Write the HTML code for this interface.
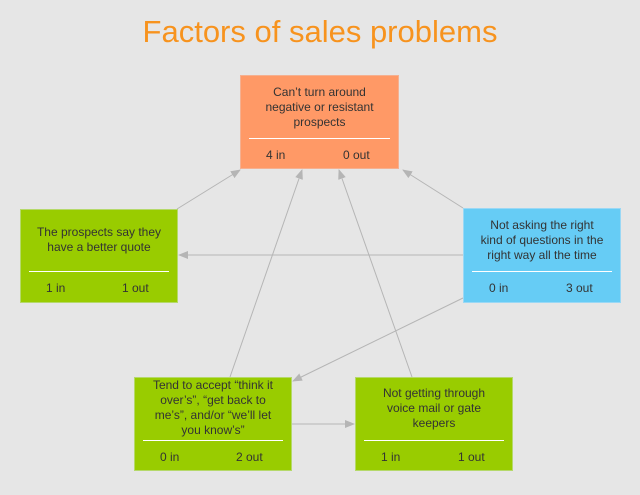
<!DOCTYPE html>
<html><head><style>
body{margin:0;width:640px;height:495px;background:#e6e6e6;position:relative;overflow:hidden;font-family:"Liberation Sans",sans-serif;}
.t{position:absolute;left:0;width:640px;top:14px;text-align:center;font-size:31px;color:#f7931e;}
.b{position:absolute;box-sizing:border-box;color:#333;font-size:12px;text-align:center;}
.b .txt{position:absolute;line-height:15px;}
.b .sep{position:absolute;left:8px;right:8px;height:1px;background:#fff;}
.b .n{position:absolute;font-size:12px;}
</style></head><body>
<div class="t">Factors of sales problems</div>
<svg width="640" height="495" style="position:absolute;left:0;top:0">
<defs><marker id="a" markerWidth="10" markerHeight="8" refX="9" refY="4" orient="auto" markerUnits="userSpaceOnUse"><path d="M0,0 L10,4 L0,8 Z" fill="#b5b5b5"/></marker></defs>
<g stroke="#b5b5b5" stroke-width="1" fill="none" marker-end="url(#a)">
<line x1="177" y1="209" x2="240" y2="170"/>
<line x1="230" y1="377" x2="302" y2="170"/>
<line x1="412" y1="377" x2="339" y2="170"/>
<line x1="463" y1="208" x2="403" y2="170"/>
<line x1="463" y1="255" x2="179" y2="255"/>
<line x1="463" y1="298" x2="293" y2="381"/>
<line x1="291" y1="424" x2="354" y2="424"/>
</g></svg>
<div class="b" style="left:240px;top:75px;width:159px;height:94px;background:#ff9966;border:1px solid #f5b090">
<div class="txt" style="top:9px;left:14px;right:14px">Can’t turn around<br>negative or resistant<br>prospects</div>
<div class="sep" style="top:62px"></div>
<div class="n" style="left:25px;top:72px">4 in</div><div class="n" style="left:102px;top:72px">0 out</div></div>
<div class="b" style="left:20px;top:209px;width:158px;height:94px;background:#99cc00;border:1px solid #b5d96a">
<div class="txt" style="top:15px;left:4px;right:4px">The prospects say they<br>have a better quote</div>
<div class="sep" style="top:61px"></div>
<div class="n" style="left:25px;top:71px">1 in</div><div class="n" style="left:101px;top:71px">1 out</div></div>
<div class="b" style="left:463px;top:208px;width:158px;height:95px;background:#66ccf5;border:1px solid #9ad8f5">
<div class="txt" style="top:9px;left:2px;right:2px">Not asking the right<br>kind of questions in the<br>right way all the time</div>
<div class="sep" style="top:62px"></div>
<div class="n" style="left:25px;top:72px">0 in</div><div class="n" style="left:102px;top:72px">3 out</div></div>
<div class="b" style="left:134px;top:377px;width:158px;height:94px;background:#99cc00;border:1px solid #b5d96a">
<div class="txt" style="top:0px;left:2px;right:2px">Tend to accept “think it<br>over’s”, “get back to<br>me’s”, and/or “we’ll let<br>you know’s”</div>
<div class="sep" style="top:62px"></div>
<div class="n" style="left:25px;top:72px">0 in</div><div class="n" style="left:101px;top:72px">2 out</div></div>
<div class="b" style="left:355px;top:377px;width:158px;height:94px;background:#99cc00;border:1px solid #b5d96a">
<div class="txt" style="top:8px;left:4px;right:4px">Not getting through<br>voice mail or gate<br>keepers</div>
<div class="sep" style="top:62px"></div>
<div class="n" style="left:25px;top:72px">1 in</div><div class="n" style="left:102px;top:72px">1 out</div></div>
</body></html>
